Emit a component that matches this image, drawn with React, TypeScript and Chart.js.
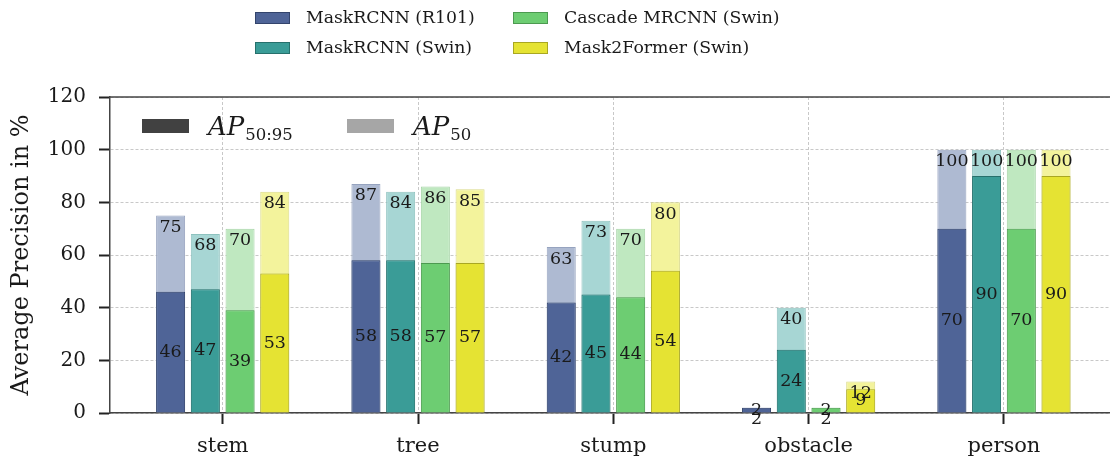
import { useEffect, useRef } from 'react';
import { Chart, registerables } from 'chart.js';
Chart.register(...registerables);

const categories = ['stem', 'tree', 'stump', 'obstacle', 'person'];
const models = ['MaskRCNN (R101)', 'MaskRCNN (Swin)', 'Cascade MRCNN (Swin)', 'Mask2Former (Swin)'];

// AP 50:95 (dark bars)
const ap5095R101 = [46, 58, 42, 2, 70];
const ap5095MaskSwin = [47, 58, 45, 24, 90];
const ap5095Cascade = [39, 57, 44, 2, 70];
const ap5095M2F = [53, 57, 54, 9, 90];
// AP 50 (light bars)
const ap50R101 = [75, 87, 63, 2, 100];
const ap50MaskSwin = [68, 84, 73, 40, 100];
const ap50Cascade = [70, 86, 70, 2, 100];
const ap50M2F = [84, 85, 80, 12, 100];

const yTicks = [0, 20, 40, 60, 80, 100, 120];

const solidColors = ['#4f6497', '#3a9c97', '#6dcd72', '#e5e333'];
const edgeColors = ['#33446c', '#26706c', '#4c9a50', '#a9a722'];
const lightColors = ['#aebad2', '#a7d6d4', '#bfe8c0', '#f3f39c'];
const lightEdges = ['#96a3bf', '#8ec2bf', '#a5d4a6', '#dada88'];

const darkSets = [ap5095R101, ap5095MaskSwin, ap5095Cascade, ap5095M2F];
const lightSets = [ap50R101, ap50MaskSwin, ap50Cascade, ap50M2F];

const FONT = '"DejaVu Serif", serif';

const barLabelPlugin = {
  id: 'barLabels',
  afterDatasetsDraw(chart: any) {
    const ctx = chart.ctx;
    ctx.save();
    ctx.font = `17.5px ${FONT}`;
    ctx.fillStyle = '#1a1a1a';
    ctx.textAlign = 'center';
    ctx.textBaseline = 'middle';
    chart.data.datasets.forEach((ds: any, di: number) => {
      const meta = chart.getDatasetMeta(di);
      meta.data.forEach((el: any, i: number) => {
        const v = ds.data[i].y;
        const p = el.getProps(['x', 'y', 'base'], true);
        const ly = ds.kind === 'dark' ? (p.y + p.base) / 2 : p.y + 12;
        ctx.fillText(String(v), p.x, ly);
      });
    });
    ctx.restore();
  },
};

const framePlugin = {
  id: 'frameAndLegends',
  afterDraw(chart: any) {
    const ctx = chart.ctx;
    const ca = chart.chartArea;
    ctx.save();
    // top spine
    ctx.strokeStyle = '#444';
    ctx.lineWidth = 1.5;
    ctx.beginPath();
    ctx.moveTo(ca.left, ca.top);
    ctx.lineTo(ca.right, ca.top);
    ctx.stroke();

    // top legend (2 columns)
    const cols = [255, 513];
    const rows = [18, 48];
    ctx.font = `17.3px ${FONT}`;
    ctx.textAlign = 'left';
    ctx.textBaseline = 'middle';
    models.forEach((m, k) => {
      const cx = cols[Math.floor(k / 2)];
      const cy = rows[k % 2];
      ctx.fillStyle = solidColors[k];
      ctx.fillRect(cx, cy - 6, 35, 12);
      ctx.strokeStyle = edgeColors[k];
      ctx.lineWidth = 1;
      ctx.strokeRect(cx + 0.5, cy - 5.5, 34, 11);
      ctx.fillStyle = '#1a1a1a';
      ctx.fillText(m, cx + 51, cy + 1);
    });

    // inner legend
    const items = [
      { x: 142, fill: '#414141', sub: '50:95' },
      { x: 347, fill: '#a6a6a6', sub: '50' },
    ];
    items.forEach((it) => {
      ctx.fillStyle = it.fill;
      ctx.fillRect(it.x, 119, 47, 14);
      const tx = it.x + 66;
      ctx.fillStyle = '#1a1a1a';
      ctx.textBaseline = 'alphabetic';
      ctx.font = `italic 26px ${FONT}`;
      ctx.fillText('AP', tx, 135);
      const w = ctx.measureText('AP').width;
      ctx.font = `16.5px ${FONT}`;
      ctx.fillText(it.sub, tx + w + 1, 140);
    });
    ctx.restore();
  },
};

export default function App() {
  const ref = useRef<HTMLCanvasElement>(null);
  useEffect(() => {
    const datasets: any[] = [];
    models.forEach((m, k) => {
      datasets.push({
        label: `${m} AP50:95`,
        kind: 'dark',
        data: categories.map((_, i) => ({ x: i, y: darkSets[k][i] })),
        stack: `s${k}`,
        order: 0,
        backgroundColor: solidColors[k],
        borderColor: edgeColors[k],
        borderWidth: 1,
        categoryPercentage: 0.711,
        barPercentage: 0.836,
      });
    });
    models.forEach((m, k) => {
      datasets.push({
        label: `${m} AP50`,
        kind: 'light',
        data: categories.map((_, i) => ({ x: i, y: lightSets[k][i] })),
        stack: `s${k}`,
        order: 1,
        backgroundColor: lightColors[k],
        borderColor: lightEdges[k],
        borderWidth: 1,
        categoryPercentage: 0.711,
        barPercentage: 0.836,
      });
    });

    Chart.defaults.font.family = FONT;
    const chart = new Chart(ref.current!, {
      type: 'bar',
      data: { datasets },
      options: {
        animation: false,
        responsive: true,
        maintainAspectRatio: false,
        layout: { padding: { top: 97, right: 0, left: 0, bottom: 0 } },
        plugins: { legend: { display: false }, tooltip: { enabled: false } },
        scales: {
          x: {
            type: 'linear',
            stacked: true,
            offset: false,
            min: -0.577,
            max: 4.543,
            afterBuildTicks: (s: any) => {
              s.ticks = categories.map((_, i) => ({ value: i }));
            },
            afterFit: (s: any) => {
              s.height = 46;
            },
            ticks: {
              callback: (v: any) => categories[Math.round(Number(v))],
              color: '#1a1a1a',
              font: { size: 21, family: FONT },
              padding: 10,
              maxRotation: 0,
              autoSkip: false,
            },
            grid: {
              offset: false,
              color: '#c8c8c8',
              lineWidth: 1,
              tickLength: 11,
              tickColor: '#222',
              tickWidth: 2,
            },
            border: { display: true, color: '#444', width: 1.5, dash: [3, 2] },
          },
          y: {
            type: 'linear',
            stacked: false,
            min: 0,
            max: 120,
            afterBuildTicks: (s: any) => {
              s.ticks = yTicks.map((v) => ({ value: v }));
            },
            afterFit: (s: any) => {
              s.width = 110;
            },
            ticks: {
              color: '#1a1a1a',
              font: { size: 20, family: FONT },
              padding: 13,
            },
            grid: {
              color: '#c8c8c8',
              lineWidth: 1,
              tickLength: 11,
              tickColor: '#222',
              tickWidth: 2,
            },
            border: { display: true, color: '#444', width: 1.5, dash: [3, 2] },
            title: {
              display: true,
              text: 'Average Precision in %',
              color: '#1a1a1a',
              font: { size: 24, family: FONT },
              padding: { top: 7, bottom: 0 },
            },
          },
        },
      },
      plugins: [barLabelPlugin, framePlugin],
    } as any);
    return () => chart.destroy();
  }, []);
  return (
    <div style={{ position: 'fixed', left: 0, top: 0, width: 1110, height: 459 }}>
      <canvas ref={ref} />
    </div>
  );
}
